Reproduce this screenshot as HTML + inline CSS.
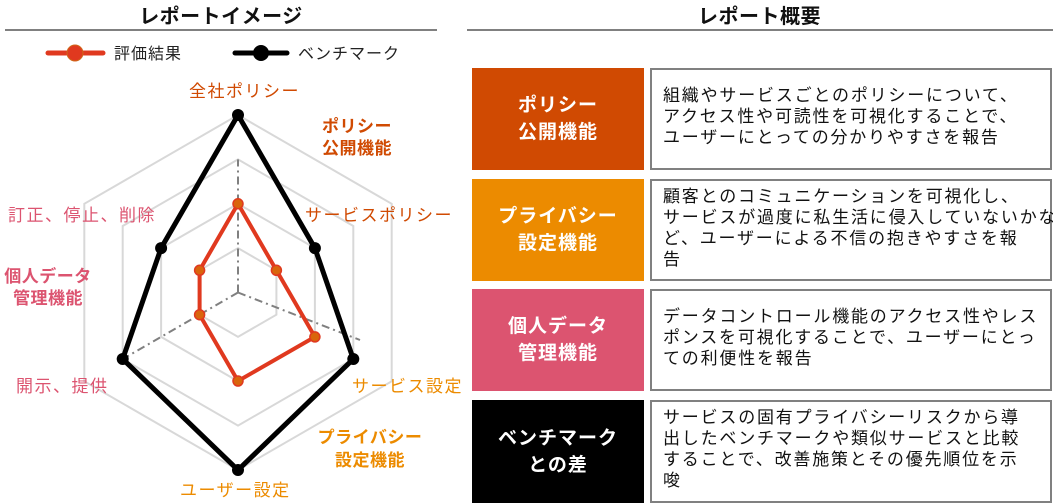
<!DOCTYPE html>
<html><head><meta charset="utf-8"><style>
body{margin:0;width:1053px;height:503px;background:#fff;overflow:hidden;font-family:"Liberation Sans","Noto Sans CJK JP",sans-serif;position:relative}
.a{position:absolute}
.h{font-weight:bold;font-size:20px;color:#111;text-align:center;letter-spacing:0.5px}
.cb{position:absolute;left:472px;width:172px;height:102px;color:#fff;font-weight:bold;font-size:19px;line-height:27px;display:flex;align-items:center;justify-content:center;text-align:center;letter-spacing:1px}
.tb{position:absolute;left:650px;width:398px;height:98px;border:2px solid #808080;font-size:17px;line-height:21px;color:#111;box-sizing:content-box;letter-spacing:1.8px;white-space:nowrap}
.tb div{padding:15px 0 0 11px}
</style></head><body>
<div class="a h" style="left:5px;width:432px;top:0px">レポートイメージ</div>
<div class="a" style="left:5px;width:432px;top:29px;height:2px;background:#808080"></div>
<div class="a h" style="left:467px;width:585px;top:0px">レポート概要</div>
<div class="a" style="left:467px;width:586px;top:29px;height:2px;background:#808080"></div>

<svg class="a" style="left:0;top:0" width="470" height="503" font-family="Liberation Sans, Noto Sans CJK JP, sans-serif">
<line x1="48" y1="53" x2="103" y2="53" stroke="#e0391f" stroke-width="5" stroke-linecap="round"/>
<circle cx="75" cy="53" r="8" fill="#e0391f" stroke="#d0661a" stroke-width="1"/>
<text x="114" y="59" font-size="16" letter-spacing="1" fill="#222">評価結果</text>
<line x1="235" y1="53" x2="287" y2="53" stroke="#000" stroke-width="5" stroke-linecap="round"/>
<circle cx="261" cy="53" r="8" fill="#000"/>
<text x="298" y="59" font-size="16" letter-spacing="1" fill="#222">ベンチマーク</text>
<g fill="none" stroke="#d8d8d8" stroke-width="2">
<polygon points="238,248.1 276.4,270.3 276.4,314.7 238,336.9 199.6,314.7 199.6,270.3"/>
<polygon points="238,203.8 314.9,248.1 314.9,336.9 238,381.3 161.1,336.9 161.1,248.1"/>
<polygon points="238,159.4 353.3,226 353.3,359 238,425.6 122.7,359 122.7,226"/>
<polygon points="238,115 391.7,203.8 391.7,381.3 238,470 84.3,381.3 84.3,203.8"/>
</g>
<g stroke="#808080" stroke-width="2" stroke-dasharray="8,4,2,4">
<line x1="238" y1="292.5" x2="238" y2="159.4"/>
<line x1="238" y1="292.5" x2="122.7" y2="359"/>
<line x1="238" y1="292.5" x2="360" y2="340"/>
</g>
<polygon points="238,115 314.9,248.1 353.3,359 238,470 122.7,359 161.1,248.1" fill="none" stroke="#000" stroke-width="5"/>
<g fill="#000">
<circle cx="238" cy="115" r="6"/><circle cx="314.9" cy="248.1" r="6"/><circle cx="353.3" cy="359" r="6"/><circle cx="238" cy="470" r="6"/><circle cx="122.7" cy="359" r="6"/><circle cx="161.1" cy="248.1" r="6"/>
</g>
<polygon points="238,203.8 276.4,270.3 314.9,336.9 238,381 199.6,314.7 199.6,270.3" fill="none" stroke="#e0391f" stroke-width="4"/>
<g fill="#d9650c" stroke="#e0391f" stroke-width="1.5">
<circle cx="238" cy="203.8" r="5"/><circle cx="276.4" cy="270.3" r="5"/><circle cx="314.9" cy="336.9" r="5"/><circle cx="238" cy="381" r="5"/><circle cx="199.6" cy="314.7" r="5"/><circle cx="199.6" cy="270.3" r="5"/>
</g>
<g font-size="17" letter-spacing="1.5">
<text x="189" y="97" fill="#d04a02">全社ポリシー</text>
<text x="305" y="221" fill="#d04a02">サービスポリシー</text>
<text x="8" y="221" fill="#dc5470">訂正、停止、削除</text>
<text x="16" y="392" fill="#dc5470">開示、提供</text>
<text x="352" y="392" fill="#ec8b00">サービス設定</text>
<text x="180" y="496" fill="#ec8b00">ユーザー設定</text>
</g>
<g font-size="17" font-weight="bold" letter-spacing="0.5">
<text x="357" y="132" text-anchor="middle" fill="#d04a02">ポリシー</text>
<text x="357" y="154" text-anchor="middle" fill="#d04a02">公開機能</text>
<text x="48" y="282" text-anchor="middle" fill="#dc5470">個人データ</text>
<text x="48" y="304" text-anchor="middle" fill="#dc5470">管理機能</text>
<text x="370" y="443" text-anchor="middle" fill="#ec8b00">プライバシー</text>
<text x="370" y="466" text-anchor="middle" fill="#ec8b00">設定機能</text>
</g>
</svg>

<div class="cb" style="top:68px;background:#d04a02">ポリシー<br>公開機能</div>
<div class="tb" style="top:68px"><div>組織やサービスごとのポリシーについて、<br>アクセス性や可読性を可視化することで、<br>ユーザーにとっての分かりやすさを報告</div></div>
<div class="cb" style="top:179px;background:#ec8b00">プライバシー<br>設定機能</div>
<div class="tb" style="top:179px"><div style="padding-top:5px">顧客とのコミュニケーションを可視化し、<br>サービスが過度に私生活に侵入していないかな<br>ど、ユーザーによる不信の抱きやすさを報<br>告</div></div>
<div class="cb" style="top:289px;background:#dc5470">個人データ<br>管理機能</div>
<div class="tb" style="top:289px"><div style="padding-top:15px">データコントロール機能のアクセス性やレス<br>ポンスを可視化することで、ユーザーにとっ<br>ての利便性を報告</div></div>
<div class="cb" style="top:400px;height:103px;background:#000">ベンチマーク<br>との差</div>
<div class="tb" style="top:400px;height:99px"><div style="padding-top:5px">サービスの固有プライバシーリスクから導<br>出したベンチマークや類似サービスと比較<br>することで、改善施策とその優先順位を示<br>唆</div></div>
</body></html>
